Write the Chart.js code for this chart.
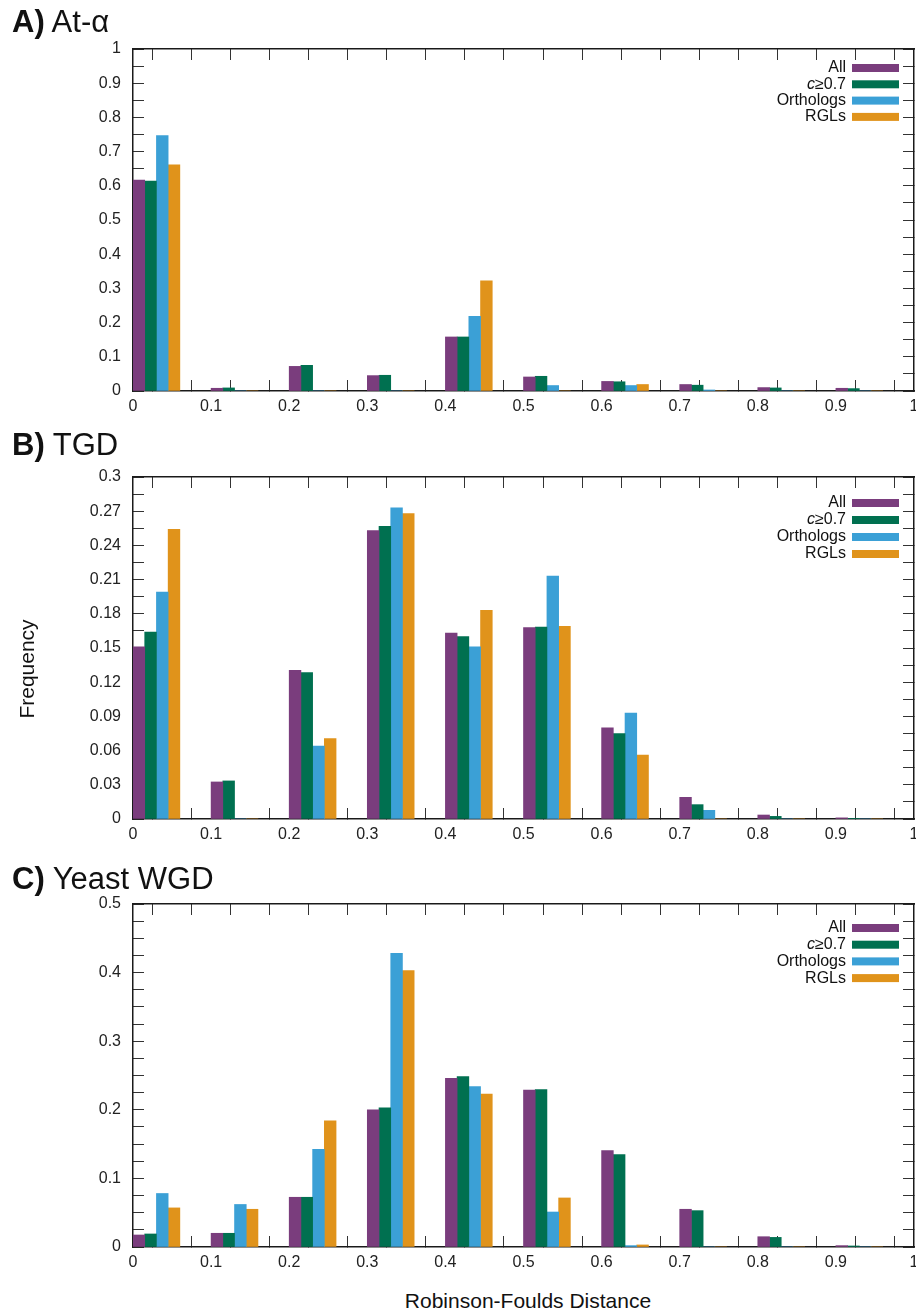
<!DOCTYPE html>
<html><head><meta charset="utf-8">
<script src="https://cdn.jsdelivr.net/npm/chart.js@4.4.0/dist/chart.umd.min.js"></script>
<style>
html,body{margin:0;padding:0;background:#fff;}
body{width:916px;height:1311px;overflow:hidden;position:relative;font-family:"Liberation Sans",Arial,Helvetica,sans-serif;color:#111;}
canvas{position:absolute;left:0;}
.ptitle{position:absolute;left:12px;font-size:31px;line-height:1;white-space:nowrap;}
.ptitle b{font-weight:bold;}
.ylab{position:absolute;width:200px;height:26px;line-height:26px;font-size:21px;text-align:center;transform:rotate(-90deg);}
.xlab{position:absolute;width:400px;font-size:21px;line-height:1;text-align:center;}
</style></head><body>
<canvas id="cA" width="940" height="430" style="top:0px;width:940px;height:430px"></canvas>
<canvas id="cB" width="940" height="430" style="top:430px;width:940px;height:430px"></canvas>
<canvas id="cC" width="940" height="420" style="top:860px;width:940px;height:420px"></canvas>
<div class="ptitle" style="top:6px"><b>A)</b> At-α</div>
<div class="ptitle" style="top:429px"><b>B)</b> TGD</div>
<div class="ptitle" style="top:863px"><b>C)</b> Yeast WGD</div>
<div class="ylab" style="left:-73px;top:656px">Frequency</div>
<div class="xlab" style="left:328px;top:1290px">Robinson-Foulds Distance</div>
<script>
// ---- data ----
const binStarts = [0, 0.1, 0.2, 0.3, 0.4, 0.5, 0.6, 0.7, 0.8, 0.9];
const seriesLabels = ['All', 'c≥0.7', 'Orthologs', 'RGLs'];
const seriesColors = ['#7A3D7D', '#007050', '#3BA0D6', '#E0931B'];

// A) At-alpha
const atAll   = [0.617, 0.008, 0.072, 0.045, 0.158, 0.041, 0.028, 0.019, 0.010, 0.008];
const atC07   = [0.614, 0.009, 0.075, 0.046, 0.158, 0.043, 0.027, 0.017, 0.009, 0.007];
const atOrth  = [0.747, 0, 0, 0, 0.218, 0.016, 0.016, 0.003, 0, 0];
const atRGL   = [0.661, 0, 0, 0, 0.322, 0, 0.019, 0, 0, 0];

// B) TGD
const tgdAll  = [0.151, 0.0325, 0.1305, 0.253, 0.163, 0.168, 0.080, 0.019, 0.0035, 0.001];
const tgdC07  = [0.164, 0.0334, 0.1285, 0.2567, 0.160, 0.1683, 0.075, 0.0126, 0.0023, 0.0003];
const tgdOrth = [0.199, 0, 0.064, 0.273, 0.151, 0.213, 0.093, 0.0076, 0, 0];
const tgdRGL  = [0.254, 0, 0.0705, 0.268, 0.183, 0.169, 0.056, 0, 0, 0];

// C) Yeast WGD
const ywAll   = [0.0175, 0.020, 0.0725, 0.200, 0.246, 0.2286, 0.1406, 0.055, 0.015, 0.002];
const ywC07   = [0.019, 0.020, 0.0725, 0.203, 0.2485, 0.2296, 0.1347, 0.053, 0.014, 0.0015];
const ywOrth  = [0.078, 0.062, 0.1425, 0.428, 0.234, 0.051, 0.002, 0, 0, 0];
const ywRGL   = [0.057, 0.055, 0.184, 0.403, 0.223, 0.0715, 0.003, 0, 0, 0];

// tick settings
const xTicks = { min: 0, max: 1, major: 0.1, minor: 0.05 };
const yTicksA = { min: 0, max: 1, major: 0.1, minor: 0.05 };
const yTicksB = { min: 0, max: 0.3, major: 0.03, minor: 0.015 };
const yTicksC = { min: 0, max: 0.5, major: 0.1, minor: 0.025 };

// ---- helpers ----
const FONT = '"Liberation Sans", Arial, Helvetica, sans-serif';
const BAR_W = 0.015; // bin-width share of each bar (x units)
const isMajor = (v, m) => Math.abs(v / m - Math.round(v / m)) < 1e-6;
const fmt = v => String(parseFloat(Number(v).toFixed(3)));

const legendPlugin = {
  id: 'boxLegend',
  afterDatasetsDraw(chart, args, opts) {
    const ctx = chart.ctx, ca = chart.chartArea;
    ctx.save();
    chart.data.datasets.forEach((ds, i) => {
      const yc = ca.top + opts.top + i * opts.spacing;
      const sx = ca.right - 62;
      ctx.fillStyle = ds.backgroundColor;
      ctx.fillRect(sx, yc - 4, 47, 8);
      const tx = sx - 6;
      ctx.fillStyle = '#111';
      ctx.textBaseline = 'middle';
      ctx.textAlign = 'right';
      const lab = ds.label;
      if (lab.charAt(0) === 'c' && lab.charAt(1) === '≥') {
        ctx.font = '16px ' + FONT;
        const rest = lab.slice(1);
        ctx.fillText(rest, tx, yc);
        const w = ctx.measureText(rest).width;
        ctx.font = 'italic 16px ' + FONT;
        ctx.fillText('c', tx - w, yc);
      } else {
        ctx.font = '16px ' + FONT;
        ctx.fillText(lab, tx, yc);
      }
    });
    ctx.restore();
  }
};

function axisCommon(extra) {
  return Object.assign({
    type: 'linear',
    grid: { drawOnChartArea: false, drawTicks: true, tickLength: -11, color: '#333', lineWidth: 1 },
    border: { display: true, color: '#1a1a1a', width: 1.5 }
  }, extra);
}

function makePanel(id, series, yt, pad, legTop, legSp) {
  const datasets = series.map((vals, i) => ({
    type: 'bar',
    label: seriesLabels[i],
    backgroundColor: seriesColors[i],
    borderWidth: 0,
    grouped: false,
    barPercentage: 1,
    categoryPercentage: 1,
    xAxisID: 'x', yAxisID: 'y',
    data: binStarts.map((b, j) => ({ x: b + (i + 0.5) * BAR_W, y: vals[j] }))
  }));
  new Chart(document.getElementById(id), {
    type: 'bar',
    data: { datasets },
    plugins: [legendPlugin],
    options: {
      responsive: false, animation: false, events: [],
      layout: { padding: pad },
      plugins: { legend: { display: false }, tooltip: { enabled: false }, boxLegend: { top: legTop, spacing: legSp } },
      scales: {
        x: axisCommon({
          position: 'bottom', min: xTicks.min, max: xTicks.max, offset: false,
          ticks: { stepSize: xTicks.minor, maxTicksLimit: 100, autoSkip: false, maxRotation: 0, minRotation: 0,
                   padding: 17, color: '#222', font: { family: FONT, size: 16 },
                   callback: v => isMajor(v, xTicks.major) ? fmt(v) : '' },
          afterFit: s => { s.height = 30; s.paddingLeft = 0; s.paddingRight = 0; }
        }),
        x2: axisCommon({
          position: 'top', min: xTicks.min, max: xTicks.max, offset: false,
          ticks: { stepSize: xTicks.minor, maxTicksLimit: 100, autoSkip: false, display: false },
          afterFit: s => { s.height = 0; s.paddingLeft = 0; s.paddingRight = 0; }
        }),
        y: axisCommon({
          position: 'left', min: yt.min, max: yt.max,
          ticks: { stepSize: yt.minor, maxTicksLimit: 100, autoSkip: false, padding: 23, color: '#222',
                   font: { family: FONT, size: 16 },
                   callback: v => isMajor(v, yt.major) ? fmt(v) : '' },
          afterFit: s => { s.width = 133; s.paddingTop = 0; s.paddingBottom = 0; }
        }),
        y2: axisCommon({
          position: 'right', min: yt.min, max: yt.max,
          ticks: { stepSize: yt.minor, maxTicksLimit: 100, autoSkip: false, display: false },
          afterFit: s => { s.width = 0; s.paddingTop = 0; s.paddingBottom = 0; }
        })
      }
    }
  });
}

makePanel('cA', [atAll, atC07, atOrth, atRGL], yTicksA, { top: 49, right: 26, bottom: 9, left: 0 }, 19, 16.3);
makePanel('cB', [tgdAll, tgdC07, tgdOrth, tgdRGL], yTicksB, { top: 47, right: 26, bottom: 11, left: 0 }, 26, 17);
makePanel('cC', [ywAll, ywC07, ywOrth, ywRGL], yTicksC, { top: 44, right: 26, bottom: 3, left: 0 }, 24, 16.7);
</script>
</body></html>
